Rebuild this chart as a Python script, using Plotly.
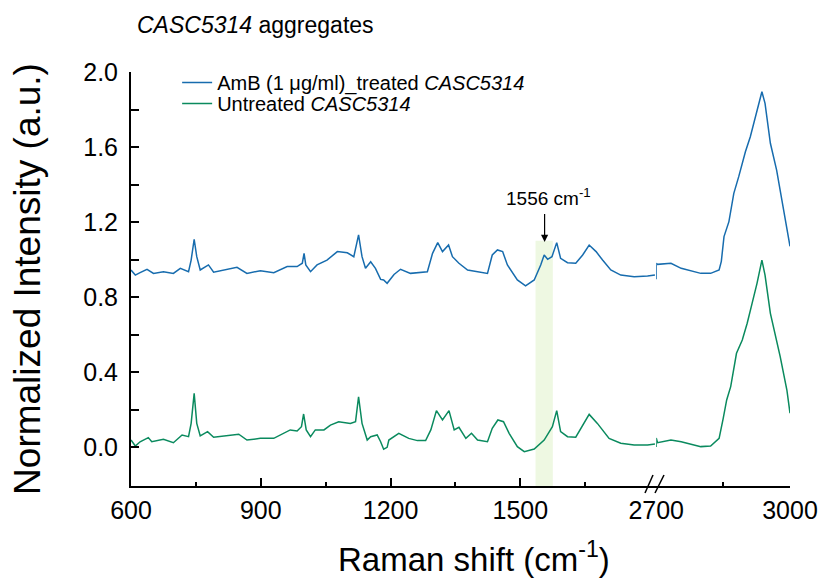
import plotly.graph_objects as go

# ---------------- data ----------------
blue_left_x = [600, 610, 621, 637, 652, 675, 698, 714, 733, 739, 746, 752, 760, 779, 791, 822, 845, 868, 899, 930,
               961, 984, 996, 1000, 1004, 1015, 1030, 1053, 1077, 1100, 1115, 1126, 1134, 1142, 1154, 1165, 1177, 1184,
               1192, 1208, 1223, 1246, 1269, 1285, 1297, 1309, 1320, 1334, 1343, 1358, 1378, 1401, 1424, 1435, 1447,
               1459, 1470, 1493, 1512, 1532, 1547, 1555, 1563, 1573, 1584, 1593, 1609, 1628, 1644, 1659, 1675, 1690,
               1709, 1732, 1763, 1794, 1811]
blue_left_y = [0.944, 0.917, 0.930, 0.948, 0.926, 0.935, 0.926, 0.953, 0.935, 0.997, 1.108, 1.015, 0.944, 0.971, 0.932,
               0.948, 0.958, 0.926, 0.940, 0.930, 0.962, 0.962, 0.980, 1.033, 0.971, 0.935, 0.971, 0.997, 1.042, 1.036,
               1.015, 1.131, 1.015, 0.953, 0.988, 0.953, 0.894, 0.891, 0.873, 0.920, 0.948, 0.926, 0.930, 0.935, 1.033,
               1.090, 1.042, 1.077, 1.015, 0.980, 0.944, 0.935, 0.926, 1.024, 1.051, 1.042, 0.971, 0.891, 0.859, 0.891,
               0.971, 1.024, 1.001, 1.015, 1.090, 1.006, 0.983, 0.980, 1.024, 1.077, 1.042, 0.997, 0.944, 0.917, 0.908,
               0.912, 0.917]

blue_right_x = [2700, 2700, 2703, 2733, 2756, 2778, 2800, 2822, 2841, 2846, 2852, 2863, 2874, 2885, 2900, 2911, 2922,
                2930, 2937, 2944, 2956, 2970, 2985, 3000]
blue_right_y = [0.894, 0.980, 0.974, 0.980, 0.953, 0.940, 0.926, 0.926, 0.944, 0.990, 1.122, 1.202, 1.353, 1.442,
                1.575, 1.655, 1.762, 1.833, 1.895, 1.833, 1.620, 1.477, 1.282, 1.070]

green_left_x = [600, 610, 621, 640, 648, 675, 698, 718, 733, 739, 746, 752, 760, 777, 791, 822, 849, 868, 899, 930,
                968, 984, 994, 999, 1005, 1015, 1026, 1046, 1061, 1080, 1107, 1119, 1126, 1134, 1146, 1154, 1169, 1177,
                1184, 1192, 1196, 1219, 1242, 1262, 1281, 1293, 1306, 1320, 1335, 1347, 1358, 1374, 1387, 1401, 1424,
                1435, 1448, 1461, 1474, 1493, 1509, 1532, 1555, 1574, 1584, 1593, 1609, 1628, 1644, 1659, 1678, 1705,
                1732, 1763, 1794, 1811]
green_left_y = [0.037, 0.005, 0.028, 0.050, 0.028, 0.041, 0.023, 0.064, 0.055, 0.126, 0.286, 0.126, 0.059, 0.082,
                0.052, 0.059, 0.068, 0.037, 0.046, 0.046, 0.091, 0.085, 0.108, 0.176, 0.091, 0.055, 0.091, 0.091, 0.117,
                0.135, 0.126, 0.135, 0.268, 0.126, 0.037, 0.055, 0.064, 0.028, -0.012, -0.002, 0.037, 0.073, 0.046,
                0.034, 0.034, 0.091, 0.194, 0.144, 0.194, 0.091, 0.105, 0.046, 0.073, 0.037, 0.028, 0.100, 0.144, 0.135,
                0.073, 0.002, -0.025, -0.011, 0.037, 0.108, 0.194, 0.082, 0.055, 0.052, 0.117, 0.174, 0.126, 0.046,
                0.020, 0.011, 0.011, 0.016]

green_right_x = [2700, 2700, 2703, 2733, 2756, 2778, 2800, 2822, 2841, 2850, 2858, 2867, 2880, 2893, 2904, 2915, 2926,
                 2937, 2944, 2956, 2967, 2978, 2993, 3000]
green_right_y = [0.000, 0.048, 0.023, 0.037, 0.028, 0.016, 0.002, 0.005, 0.046, 0.150, 0.251, 0.322, 0.500, 0.571,
                 0.660, 0.766, 0.873, 0.997, 0.917, 0.713, 0.606, 0.482, 0.304, 0.180]

series_names = ["AmB (1 \u03bcg/ml)_treated <i>CASC5314</i>", "Untreated <i>CASC5314</i>"]
left_ticks = [600, 900, 1200, 1500]
left_minor = [750, 1050, 1350, 1650]
right_ticks = [2700, 3000]
right_minor = [2850]
y_ticks = [0.0, 0.4, 0.8, 1.2, 1.6, 2.0]
y_minor = [0.2, 0.6, 1.0, 1.4, 1.8]
band = [1535, 1575]
marked_peak = 1556

BLUE = "#176cae"
GREEN = "#0a8a5e"
FONT = "Arial, Liberation Sans, sans-serif"

fig = go.Figure()
fig.add_trace(go.Scatter(x=blue_left_x, y=blue_left_y, mode="lines", name=series_names[0],
                         line=dict(color=BLUE, width=1.5), legendgroup="b", legend="legend",
                         xaxis="x", yaxis="y"))
fig.add_trace(go.Scatter(x=blue_right_x, y=blue_right_y, mode="lines", name=series_names[0], showlegend=False,
                         line=dict(color=BLUE, width=1.5), legendgroup="b", xaxis="x2", yaxis="y"))
fig.add_trace(go.Scatter(x=green_left_x, y=green_left_y, mode="lines", name=series_names[1],
                         line=dict(color=GREEN, width=1.5), legendgroup="g", legend="legend2",
                         xaxis="x", yaxis="y"))
fig.add_trace(go.Scatter(x=green_right_x, y=green_right_y, mode="lines", name=series_names[1], showlegend=False,
                         line=dict(color=GREEN, width=1.5), legendgroup="g", legend="legend2",
                         xaxis="x2", yaxis="y"))

axis_common = dict(showline=True, linecolor="black", linewidth=2, ticks="inside", ticklen=8, tickwidth=1.5,
                   tickcolor="black", showgrid=False, zeroline=False, tickfont=dict(size=25, color="black"),
                   automargin=False)

FIG_W, FIG_H = 825, 581
ML, MR, MT, MB = 131, 35, 72, 95
PW, PH = FIG_W - ML - MR, FIG_H - MT - MB

YMIN = -0.208
fig.update_layout(
    width=FIG_W, height=FIG_H,
    margin=dict(l=ML, r=MR, t=MT, b=MB, autoexpand=False),
    paper_bgcolor="white", plot_bgcolor="white",
    font=dict(family=FONT, color="black"),
    title=dict(text="<i>CASC5314</i> aggregates", x=137 / FIG_W, xanchor="left", y=1 - 25 / FIG_H,
               yanchor="middle", font=dict(size=23)),
    xaxis=dict(domain=[0, 0.797], range=[600, 1814], tickmode="array", tickvals=left_ticks, anchor="y",
               ticklabelstandoff=1,
               minor=dict(tickvals=left_minor, ticklen=4, ticks="inside", tickcolor="black"), **axis_common),
    xaxis2=dict(domain=[0.797, 1], range=[2700, 3000], tickmode="array", tickvals=right_ticks, anchor="y",
                ticklabelstandoff=1,
                minor=dict(tickvals=right_minor, ticklen=4, ticks="inside", tickcolor="black"), **axis_common),
    yaxis=dict(range=[YMIN, 2.0], tickmode="array", tickvals=y_ticks, tickformat=".1f", anchor="x",
               ticklabelstandoff=6,
               minor=dict(tickvals=y_minor, ticklen=8, ticks="inside", tickcolor="black"),
               title=dict(text="Normalized Intensity (a.u.)", font=dict(size=37), standoff=31), **axis_common),
    legend=dict(x=0.07, y=1 + 9 / PH, xanchor="left", yanchor="top", bgcolor="rgba(0,0,0,0)",
                font=dict(size=20)),
    legend2=dict(x=0.07, y=1 - 12 / PH, xanchor="left", yanchor="top", bgcolor="rgba(0,0,0,0)",
                 font=dict(size=20)),
    showlegend=True,
)

# highlighted band around the marked peak
fig.add_shape(type="rect", xref="x", yref="y", x0=band[0], x1=band[1], y0=YMIN, y1=1.1,
              fillcolor="#eef8e2", line=dict(width=0), layer="below")

# arrow and label for the marked peak
fig.add_annotation(x=marked_peak, y=1.093, xref="x", yref="y", ax=marked_peak, ay=1.25, axref="x", ayref="y",
                   text="", showarrow=True, arrowhead=2, arrowsize=1.2, arrowwidth=1.2, arrowcolor="black")
fig.add_annotation(x=1566, y=1.333, xref="x", yref="y", text="1556 cm<sup>-1</sup>", showarrow=False,
                   font=dict(size=19), xanchor="center", yanchor="middle")

# x-axis title spanning both segments (box kept inside the page)
fig.add_annotation(x=(474 - ML) / PW, y=(486 - 580) / PH, xref="paper", yref="paper",
                   text="Raman shift (cm<sup>-1</sup>)",
                   showarrow=False, font=dict(size=33), xanchor="center", yanchor="bottom")

# axis break marks (positions given relative to the plot area)
def px(xp):
    return (xp - ML) / PW
def py(yp):
    return (486 - yp) / PH
for x0, x1 in [(645, 653), (655, 664)]:
    fig.add_shape(type="line", xref="paper", yref="paper", x0=px(x0), y0=py(493), x1=px(x1), y1=py(475),
                  line=dict(color="black", width=1.5))

# remove the default page margin so the figure fills the window exactly
fig.write_html("out.html", config={"displayModeBar": False},
               post_script="document.body.style.margin='0';")
